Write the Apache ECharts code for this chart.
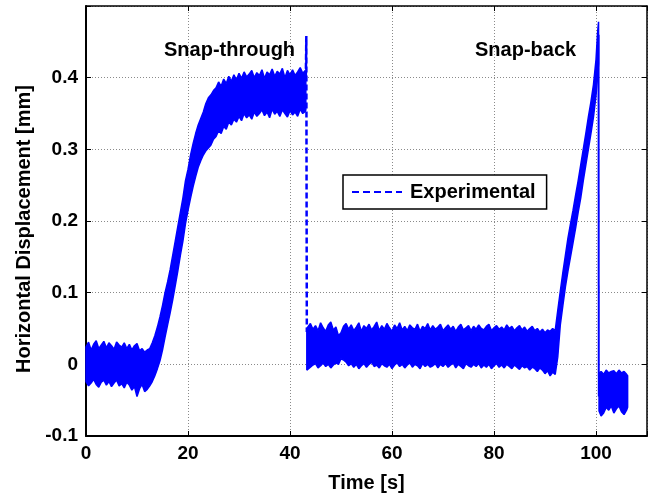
<!DOCTYPE html>
<html>
<head>
<meta charset="utf-8">
<script src="https://cdn.jsdelivr.net/npm/echarts@6/dist/echarts.min.js"></script>
<style>
  html, body { margin: 0; padding: 0; background: #fff; }
  #chart { width: 657px; height: 498px; }
</style>
</head>
<body>
<div id="chart"></div>
<script>
// Horizontal displacement record: the sensor noise is stored as the lower and
// upper envelope of the signal, sampled along time, for each continuous stretch.

// Stretch 1: rest, snap-through rise, plateau (0 - 43.1 s)
const timeA = [
  0,0.5,1,1.5,2,2.5,3,3.5,4,4.5,5,5.5,6,6.5,7,7.5,8,8.5,9,9.5,10,10.5,11,11.5,12,
  12.5,13,13.5,14,14.5,15,15.5,16,16.5,17,17.5,18,18.5,19,19.5,20,20.5,21,21.5,22,22.5,23,23.5,24,24.5,25,
  25.5,26,26.5,27,27.5,28,28.5,29,29.5,30,30.5,31,31.5,32,32.5,33,33.5,34,34.5,35,35.5,36,36.5,37,37.5,38,38.5,39,39.5,40,40.5,41,41.5,42,42.5,43,
  43.1
];
const lowA = [
  -0.024,-0.030,-0.026,-0.021,-0.028,-0.032,-0.025,-0.022,-0.029,-0.024,-0.031,-0.026,-0.022,-0.030,-0.027,-0.033,-0.025,-0.029,-0.036,-0.031,-0.045,-0.034,-0.028,-0.038,-0.035,
  -0.030,-0.024,-0.016,-0.006,0.005,0.020,0.038,0.055,0.072,0.090,0.110,0.130,0.152,0.172,0.196,0.215,0.232,0.248,0.262,0.275,0.284,0.292,0.298,0.302,0.306,0.314,
  0.318,0.326,0.322,0.332,0.328,0.338,0.334,0.342,0.338,0.346,0.340,0.350,0.344,0.348,0.342,0.352,0.346,0.350,0.355,0.347,0.352,0.344,0.356,0.349,0.353,0.346,0.355,0.350,0.345,0.354,0.348,0.352,0.346,0.356,0.350,0.353,
  0.355
];
const highA = [
  0.024,0.031,0.020,0.028,0.033,0.022,0.027,0.032,0.023,0.030,0.026,0.021,0.031,0.027,0.024,0.030,0.022,0.028,0.020,0.026,0.029,0.019,0.022,0.017,0.020,
  0.022,0.030,0.040,0.052,0.066,0.082,0.100,0.115,0.132,0.152,0.172,0.192,0.212,0.232,0.256,0.272,0.292,0.308,0.322,0.334,0.343,0.352,0.364,0.372,0.376,0.382,
  0.386,0.394,0.388,0.398,0.392,0.402,0.395,0.404,0.397,0.406,0.399,0.408,0.401,0.405,0.410,0.400,0.407,0.403,0.411,0.399,0.408,0.404,0.412,0.402,0.409,0.405,0.413,0.400,0.410,0.404,0.411,0.403,0.408,0.414,0.406,0.410,
  0.405
];

// Stretch 2: after snap-through, snap-back rise (43.3 - 100.5 s)
const timeB = [
  43.3,44,44.5,45,45.5,46,46.5,47,47.5,
  48,48.5,49,49.5,50,50.5,51,51.5,52,52.5,
  53,53.5,54,54.5,55,55.5,56,56.5,57,57.5,
  58,58.5,59,59.5,60,60.5,61,61.5,62,62.5,
  63,63.5,64,64.5,65,65.5,66,66.5,67,67.5,
  68,68.5,69,69.5,70,70.5,71,71.5,72,72.5,
  73,73.5,74,74.5,75,75.5,76,76.5,77,77.5,
  78,78.5,79,79.5,80,80.5,81,81.5,82,82.5,
  83,83.5,84,84.5,85,85.5,86,86.5,87,87.5,
  88,88.5,89,89.5,90,90.5,91,91.5,92,
  92.5,93,93.5,94,94.5,95,95.5,96,96.5,97,97.5,98,98.5,99,99.5,100,100.3,100.5
];
const lowB = [
  -0.008,-0.004,-0.001,0.001,-0.005,-0.002,0.002,-0.003,0.000,
  -0.005,-0.001,0.002,0.000,0.008,0.006,0.003,-0.002,0.001,-0.004,
  0.000,-0.006,-0.002,0.001,-0.004,0.000,0.003,-0.003,-0.001,-0.005,
  0.001,-0.002,-0.004,0.000,-0.006,-0.001,0.002,-0.003,0.000,-0.005,
  -0.001,0.002,-0.004,0.000,-0.002,-0.006,0.001,-0.003,0.000,-0.004,
  -0.002,0.001,-0.005,0.000,-0.003,0.001,-0.004,-0.001,0.002,-0.005,
  0.000,-0.003,-0.006,0.001,-0.002,-0.004,0.000,-0.003,0.001,-0.005,
  -0.001,-0.004,0.000,-0.006,-0.002,0.001,-0.004,-0.001,-0.005,0.000,
  -0.003,-0.006,-0.001,-0.004,-0.007,-0.002,-0.005,-0.003,-0.008,-0.004,
  -0.006,-0.010,-0.005,-0.008,-0.013,-0.009,-0.016,-0.011,-0.014,
  0.010,0.055,0.082,0.108,0.130,0.150,0.170,0.190,0.212,0.232,0.256,0.278,0.300,0.322,0.345,0.375,0.400,0.420
];
const highB = [
  0.050,0.057,0.049,0.054,0.047,0.058,0.051,0.046,0.055,
  0.059,0.048,0.052,0.040,0.044,0.053,0.057,0.049,0.055,0.047,
  0.052,0.058,0.046,0.054,0.050,0.056,0.048,0.053,0.059,0.047,
  0.054,0.049,0.057,0.051,0.046,0.055,0.050,0.058,0.048,0.053,
  0.047,0.055,0.051,0.049,0.056,0.046,0.053,0.050,0.057,0.048,
  0.054,0.049,0.052,0.056,0.047,0.051,0.055,0.049,0.053,0.046,
  0.052,0.056,0.048,0.051,0.054,0.047,0.053,0.049,0.055,0.050,
  0.048,0.053,0.056,0.047,0.051,0.054,0.049,0.052,0.048,0.055,
  0.050,0.053,0.047,0.051,0.054,0.048,0.052,0.046,0.050,0.053,
  0.047,0.050,0.045,0.049,0.044,0.048,0.046,0.050,0.047,
  0.075,0.102,0.128,0.152,0.176,0.196,0.215,0.236,0.256,0.278,0.300,0.322,0.345,0.366,0.390,0.425,0.462,0.478
];

// Stretch 3: after snap-back (100.6 - 106.2 s)
const timeC = [100.6,101,101.5,102,102.5,103,103.5,104,104.5,105,105.5,106,106.2];
const lowC  = [-0.065,-0.072,-0.068,-0.060,-0.064,-0.058,-0.068,-0.062,-0.058,-0.066,-0.070,-0.064,-0.060];
const highC = [-0.012,-0.010,-0.014,-0.008,-0.012,-0.010,-0.009,-0.013,-0.008,-0.012,-0.010,-0.014,-0.016];

// Fast transitions between stretches
const snapThrough = [[43.1, 0.400], [43.2, 0.458], [43.3, 0.045]];
const snapBack = [[100.5, 0.460], [100.55, -0.045]];

// Axis ticks
const xTicks = [0, 20, 40, 60, 80, 100];
const yTicks = [-0.1, 0, 0.1, 0.2, 0.3, 0.4];

const stretches = [
  { t: timeA, lo: lowA, hi: highA },
  { t: timeB, lo: lowB, hi: highB },
  { t: timeC, lo: lowC, hi: highC }
];

const BLUE = '#0000ff';
const FONT = '"Liberation Sans", Arial, sans-serif';

const chart = echarts.init(document.getElementById('chart'), null, { renderer: 'canvas' });

const tickLabel = { fontFamily: FONT, fontWeight: 'bold', fontSize: 19, color: '#000' };
const titleText = { fontFamily: FONT, fontWeight: 'bold', fontSize: 20, color: '#000' };

function fmtX(v) { return xTicks.indexOf(v) >= 0 ? String(v) : ''; }
function fmtY(v) {
  const r = Math.round(v * 10) / 10;
  return yTicks.indexOf(r) >= 0 && Math.abs(v - r) < 1e-9 ? (r === 0 ? '0' : String(r)) : '';
}

// dashed legend glyph, stretched over the legend item box
const dashIcon = 'path://M0 0h7v2h-7z M11 0h7v2h-7z M22 0h7v2h-7z M33 0h7v2h-7z M44 0h6v2h-6z';

const grid = { type: [1, 2], color: '#8a8a8a', width: 1 };

const option = {
  animation: false,
  backgroundColor: '#fff',
  grid: { left: 86, right: 10, top: 6, bottom: 56, containLabel: false },
  xAxis: [
    {
      type: 'value', min: 0, max: 110, interval: 20, position: 'bottom',
      axisLine: { show: true, onZero: false, lineStyle: { color: '#000', width: 2 } },
      axisTick: { show: true, inside: true, length: 5, lineStyle: { color: '#000', width: 1 } },
      axisLabel: Object.assign({ margin: 8, formatter: fmtX }, tickLabel),
      splitLine: { show: true, lineStyle: { color: grid.color, type: grid.type, width: grid.width } },
      name: 'Time [s]', nameLocation: 'middle', nameGap: 37,
      nameTextStyle: titleText
    },
    {
      type: 'value', min: 0, max: 110, interval: 20, position: 'top',
      axisLine: { show: true, onZero: false, lineStyle: { color: '#000', width: 1.5 } },
      axisTick: { show: true, inside: true, length: 5, lineStyle: { color: '#000', width: 1 } },
      axisLabel: { show: false }, splitLine: { show: false }
    }
  ],
  yAxis: [
    {
      type: 'value', min: -0.1, max: 0.5, interval: 0.1, position: 'left',
      axisLine: { show: true, onZero: false, lineStyle: { color: '#000', width: 2 } },
      axisTick: { show: true, inside: true, length: 5, lineStyle: { color: '#000', width: 1 } },
      axisLabel: Object.assign({ margin: 8, formatter: fmtY }, tickLabel),
      splitLine: { show: true, lineStyle: { color: grid.color, type: grid.type, width: grid.width } },
      name: 'Horizontal Displacement [mm]', nameLocation: 'middle', nameGap: 52, nameRotate: 90,
      nameTextStyle: Object.assign({ padding: [0, 16, 0, 0] }, titleText)
    },
    {
      type: 'value', min: -0.1, max: 0.5, interval: 0.1, position: 'right',
      axisLine: { show: true, onZero: false, lineStyle: { color: '#000', width: 1.5 } },
      axisTick: { show: true, inside: true, length: 5, lineStyle: { color: '#000', width: 1 } },
      axisLabel: { show: false }, splitLine: { show: false }
    }
  ],
  legend: {
    data: [{ name: 'Experimental', icon: dashIcon }],
    left: 343, top: 175,
    orient: 'vertical',
    backgroundColor: '#fff',
    borderColor: '#000', borderWidth: 1.5, borderRadius: 0,
    padding: [7, 11, 7, 9],
    itemWidth: 50, itemHeight: 3, itemGap: 0,
    itemStyle: { color: BLUE },
    textStyle: { fontFamily: FONT, fontWeight: 'bold', fontSize: 20, color: '#000', padding: [0, 0, 0, 3] }
  },
  graphic: [
    { type: 'text', left: 164, top: 40, style: { text: 'Snap-through', fontFamily: FONT, fontWeight: 'bold', fontSize: 20, fill: '#000' } },
    { type: 'text', left: 475, top: 40, style: { text: 'Snap-back', fontFamily: FONT, fontWeight: 'bold', fontSize: 20, fill: '#000' } }
  ],
  series: [
    {
      name: 'Experimental',
      type: 'line',
      data: snapThrough,
      showSymbol: false, symbol: 'none',
      lineStyle: { color: BLUE, width: 2.5, type: [6, 3] },
      itemStyle: { color: BLUE },
      z: 3
    },
    {
      name: 'Experimental band',
      type: 'custom',
      data: stretches.map(function (s) { return [s.t[0], s.lo[0]]; }),
      encode: { x: 0, y: 1 },
      renderItem: function (params, api) {
        const s = stretches[params.dataIndex];
        const n = Math.min(s.t.length, s.lo.length, s.hi.length);
        const pts = [];
        for (let i = 0; i < n; i++) pts.push(api.coord([s.t[i], s.hi[i]]));
        for (let i = n - 1; i >= 0; i--) pts.push(api.coord([s.t[i], s.lo[i]]));
        return {
          type: 'polygon',
          shape: { points: pts },
          style: { fill: BLUE, stroke: BLUE, lineWidth: 1.5, lineJoin: 'bevel' }
        };
      },
      silent: true,
      z: 2
    },
    {
      name: 'Snap-back drop',
      type: 'line',
      data: snapBack,
      showSymbol: false, symbol: 'none',
      lineStyle: { color: BLUE, width: 2 },
      silent: true,
      z: 3
    }
  ]
};

chart.setOption(option);
</script>
</body>
</html>
